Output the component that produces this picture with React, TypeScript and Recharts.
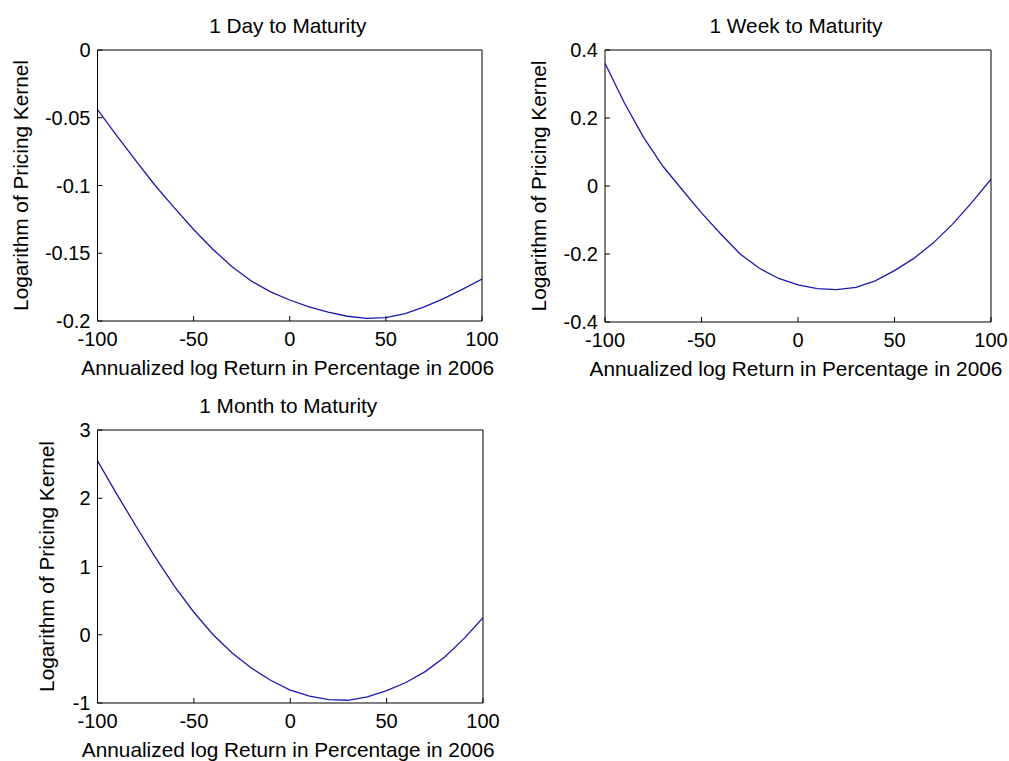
import { Label, Line, LineChart, XAxis, YAxis } from "recharts";

// annualized log return (%) grid shared by all three panels
const returns = [-100, -90, -80, -70, -60, -50, -40, -30, -20, -10, 0, 10, 20, 30, 40, 50, 60, 70, 80, 90, 100];

const dayKernel = [
  -0.044, -0.0632, -0.0818, -0.1, -0.1165, -0.1325, -0.147, -0.16, -0.1705, -0.1785, -0.1845,
  -0.1895, -0.1935, -0.1965, -0.198, -0.1975, -0.1945, -0.1895, -0.1835, -0.1765, -0.169
];
const weekKernel = [
  0.361, 0.245, 0.143, 0.058, -0.011, -0.079, -0.141, -0.2, -0.242, -0.272, -0.291,
  -0.302, -0.305, -0.298, -0.279, -0.249, -0.213, -0.168, -0.113, -0.049, 0.02
];
const monthKernel = [
  2.55, 2.06, 1.59, 1.135, 0.71, 0.33, 0.0, -0.27, -0.49, -0.67, -0.81,
  -0.9, -0.95, -0.96, -0.91, -0.82, -0.7, -0.54, -0.33, -0.06, 0.25
];

const returnTicks = [-100, -50, 0, 50, 100];
const dayTicks = [-0.2, -0.15, -0.1, -0.05, 0];
const weekTicks = [-0.4, -0.2, 0, 0.2, 0.4];
const monthTicks = [-1, 0, 1, 2, 3];

const xTitle = "Annualized log Return in Percentage in 2006";
const yTitle = "Logarithm of Pricing Kernel";

const FONT = '"Liberation Sans", Arial, Helvetica, sans-serif';
const tickStyle = { fontFamily: FONT, fontSize: 20, fill: "#000" };
const labelStyle = { fontFamily: FONT, fontSize: 20.8, fill: "#000" };

type Box = {
  left: number;
  top: number;
  width: number;
  height: number;
  margin: { top: number; right: number; bottom: number; left: number };
};

function Panel({
  title,
  values,
  ticks,
  box,
  yLabelGap
}: {
  title: string;
  values: number[];
  ticks: number[];
  box: Box;
  yLabelGap: number;
}) {
  const data = returns.map((r, i) => ({ r, k: values[i] }));
  const yDomain = [ticks[0], ticks[ticks.length - 1]];

  return (
    <div style={{ position: "absolute", left: box.left, top: box.top }}>
      <LineChart width={box.width} height={box.height} data={data} margin={box.margin}>
        <XAxis
          xAxisId="b"
          dataKey="r"
          type="number"
          domain={[-100, 100]}
          ticks={returnTicks}
          interval={0}
          height={30}
          stroke="#000"
          tickSize={-5}
          tickMargin={16}
          tick={tickStyle}
          allowDataOverflow
        >
          <Label
            content={(props: any) => {
              const vb = props.viewBox;
              return (
                <text x={vb.x + vb.width / 2 - 2} y={vb.y + 54} textAnchor="middle" style={labelStyle}>
                  {xTitle}
                </text>
              );
            }}
          />
        </XAxis>
        {/* top edge of the box: inward ticks only, carries the panel title */}
        <XAxis
          xAxisId="t"
          orientation="top"
          dataKey="r"
          type="number"
          domain={[-100, 100]}
          ticks={returnTicks}
          interval={0}
          height={1}
          stroke="#000"
          tickSize={-5}
          tick={false}
          allowDataOverflow
        >
          <Label
            content={(props: any) => {
              const vb = props.viewBox;
              return (
                <text x={vb.x + vb.width / 2 - 2} y={vb.y + vb.height - 17} textAnchor="middle" style={labelStyle}>
                  {title}
                </text>
              );
            }}
          />
        </XAxis>
        <YAxis
          yAxisId="l"
          type="number"
          domain={yDomain}
          ticks={ticks}
          interval={0}
          width={60}
          stroke="#000"
          tickSize={-5}
          tickMargin={12}
          tick={tickStyle}
          allowDataOverflow
        >
          <Label
            content={(props: any) => {
              const vb = props.viewBox;
              const bx = vb.x + vb.width - yLabelGap;
              const cy = vb.y + vb.height / 2;
              return (
                <text
                  x={bx}
                  y={cy}
                  textAnchor="middle"
                  transform={`rotate(-90, ${bx}, ${cy})`}
                  style={labelStyle}
                >
                  {yTitle}
                </text>
              );
            }}
          />
        </YAxis>
        {/* right edge of the box */}
        <YAxis
          yAxisId="r"
          orientation="right"
          type="number"
          domain={yDomain}
          ticks={ticks}
          interval={0}
          width={1}
          stroke="#000"
          tickSize={-5}
          tick={false}
          allowDataOverflow
        />
        <Line
          xAxisId="b"
          yAxisId="l"
          type="linear"
          dataKey="k"
          stroke="#1a1ab0"
          strokeWidth={1.3}
          dot={false}
          activeDot={false}
          isAnimationActive={false}
        />
      </LineChart>
    </div>
  );
}

export default function App() {
  return (
    <div
      style={{
        position: "absolute",
        left: 0,
        top: 0,
        width: 1009,
        height: 761,
        background: "#fff",
        overflow: "hidden"
      }}
    >
      <Panel
        title="1 Day to Maturity"
        values={dayKernel}
        ticks={dayTicks}
        yLabelGap={69.5}
        box={{ left: 0, top: 0, width: 500, height: 380, margin: { top: 49, right: 17, bottom: 29, left: 37.5 } }}
      />
      <Panel
        title="1 Week to Maturity"
        values={weekKernel}
        ticks={weekTicks}
        yLabelGap={59}
        box={{ left: 500, top: 0, width: 509, height: 380, margin: { top: 49, right: 17, bottom: 28, left: 45 } }}
      />
      <Panel
        title="1 Month to Maturity"
        values={monthKernel}
        ticks={monthTicks}
        yLabelGap={43.5}
        box={{ left: 0, top: 380, width: 500, height: 381, margin: { top: 49, right: 16, bottom: 28, left: 37.5 } }}
      />
    </div>
  );
}
